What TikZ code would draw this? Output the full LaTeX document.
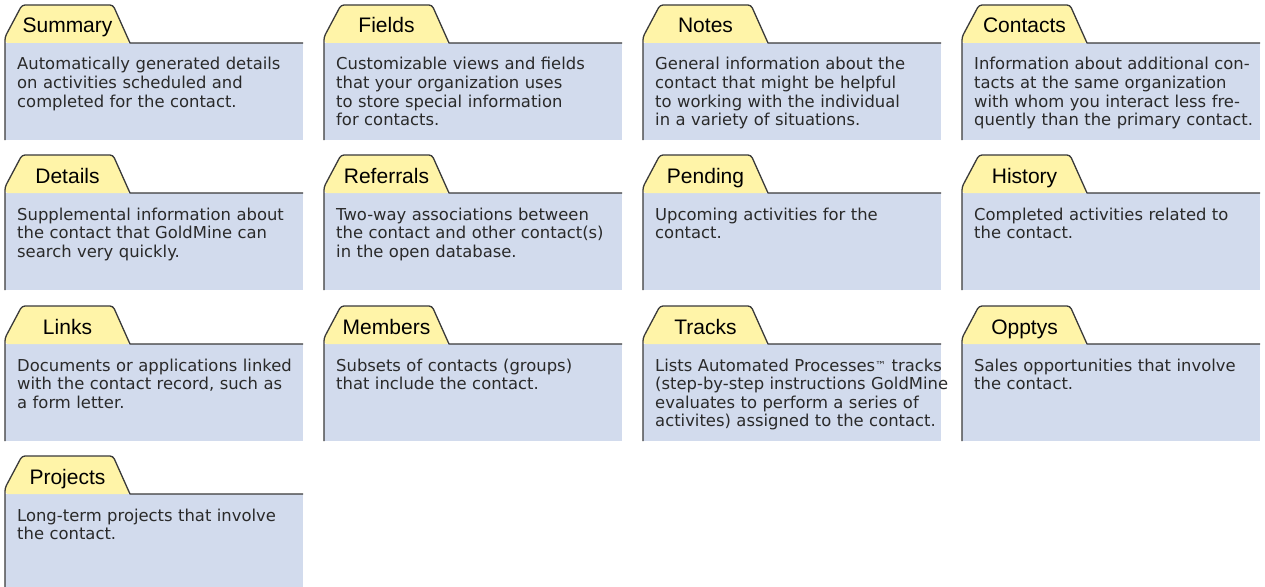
\documentclass[tikz,border=0pt]{standalone}
\usepackage{fontspec}
\setmainfont{DejaVu Sans}
\newfontfamily\tabfont{Liberation Sans}
\definecolor{cardblue}{HTML}{D2DBED}
\definecolor{tabyellow}{HTML}{FFF4A8}
\definecolor{edgegray}{HTML}{3A3A3A}
\definecolor{inkgray}{HTML}{2A2A2A}
\tikzset{
  cardedge/.style={draw=edgegray, line width=1.3pt, line join=round},
  tabshape/.style={fill=tabyellow, rounded corners=3pt},
  cardbody/.style={fill=cardblue},
  tablabel/.style={anchor=base, inner sep=0pt, text=black,
    font=\tabfont\fontsize{21}{23}\selectfont},
  cardtext/.style={anchor=base west, inner sep=0pt, text width=300pt,
    align=left, text=inkgray, font=\fontsize{16.4}{18.6}\selectfont},
}
% small raised trademark sign
\newcommand{\tmsign}{\raisebox{1.5pt}{\fontsize{11}{11}\selectfont ™}}
% \gmcard{id}{left x}{tab top y}{tab label}{description}
\newcommand{\gmcard}[5]{%
  \begin{scope}[shift={(#2,#3)}]
    \fill[cardbody] (0,38) rectangle (298,135);
    \fill[tabshape] (0,38) -- (0,32) -- (17,0) -- (108,0) -- (125,38) -- cycle;
    \draw[cardedge] (0,135) -- (0,38) [rounded corners=3pt] -- (0,32) -- (17,0)
      -- (108,0) [sharp corners] -- (125,38) -- (298,38);
    \node[tablabel] (#1-tab) at (62.5,28) {#4};
    \node[cardtext] (#1-text) at (12,65) {#5};
  \end{scope}}
\begin{document}
\begin{tikzpicture}[x=1pt,y=-1pt]
  \useasboundingbox (0,0) rectangle (1265,586);
  \fill[white] (0,0) rectangle (1265,586);
  \clip (0,0) rectangle (1265,586);
  % row 1
  \gmcard{summary}{5}{5}{Summary}{Automatically generated details\\on activities scheduled and\\completed for the contact.}
  \gmcard{fields}{324}{5}{Fields}{Customizable views and fields\\that your organization uses\\to store special information\\for contacts.}
  \gmcard{notes}{643}{5}{Notes}{General information about the\\contact that might be helpful\\to working with the individual\\in a variety of situations.}
  \gmcard{contacts}{962}{5}{Contacts}{Information about additional con-\\tacts at the same organization\\with whom you interact less fre-\\quently than the primary contact.}
  % row 2
  \gmcard{details}{5}{155}{Details}{Supplemental information about\\the contact that GoldMine can\\search very quickly.}
  \gmcard{referrals}{324}{155}{Referrals}{Two-way associations between\\the contact and other contact(s)\\in the open database.}
  \gmcard{pending}{643}{155}{Pending}{Upcoming activities for the\\contact.}
  \gmcard{history}{962}{155}{History}{Completed activities related to\\the contact.}
  % row 3
  \gmcard{links}{5}{306}{Links}{Documents or applications linked\\with the contact record, such as\\a form letter.}
  \gmcard{members}{324}{306}{Members}{Subsets of contacts (groups)\\that include the contact.}
  \gmcard{tracks}{643}{306}{Tracks}{Lists Automated Processes\tmsign{} tracks\\(step-by-step instructions GoldMine\\evaluates to perform a series of\\activites) assigned to the contact.}
  \gmcard{opptys}{962}{306}{Opptys}{Sales opportunities that involve\\the contact.}
  % row 4
  \gmcard{projects}{5}{456}{Projects}{Long-term projects that involve\\the contact.}
\end{tikzpicture}
\end{document}
